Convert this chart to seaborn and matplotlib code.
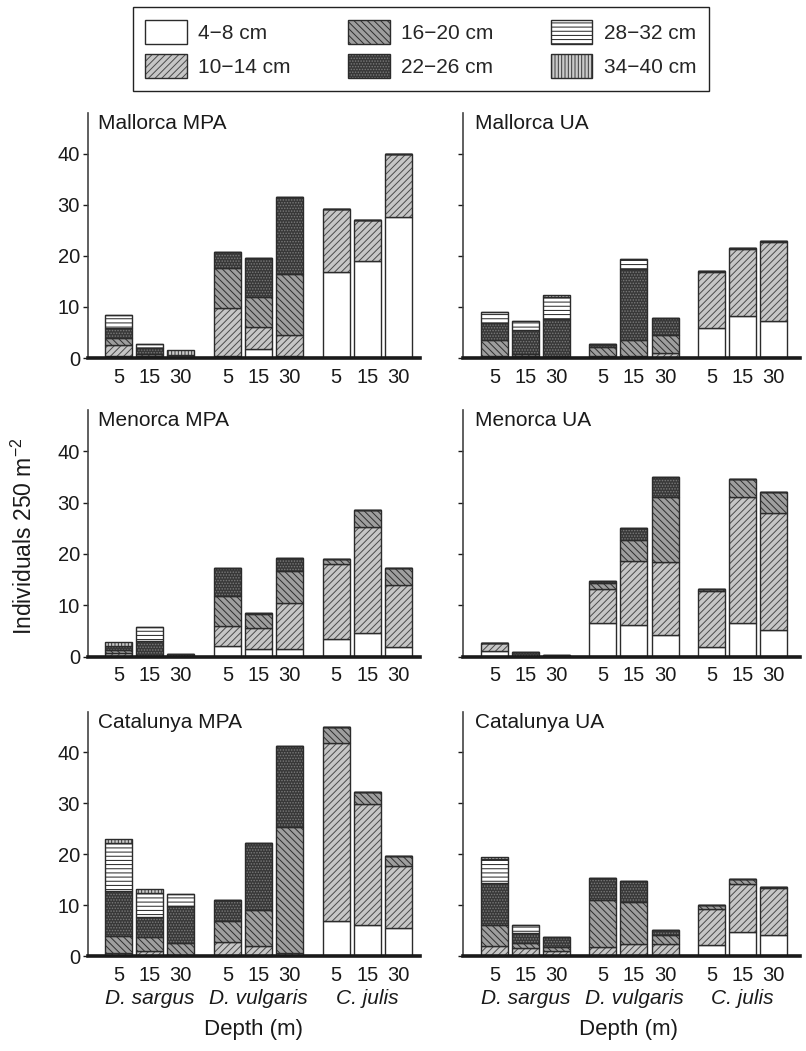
import numpy as np
import matplotlib
matplotlib.use("Agg")
import matplotlib.pyplot as plt
import seaborn as sns
from matplotlib.patches import Patch
from matplotlib.transforms import blended_transform_factory

# ---------------- data ----------------
size_classes = ["4\u22128 cm", "10\u221214 cm", "16\u221220 cm", "22\u221226 cm", "28\u221232 cm", "34\u221240 cm"]
species = ["D. sargus", "D. vulgaris", "C. julis"]
depths = ["5", "15", "30"]
bar_pos = [0, 1, 2, 3.5, 4.5, 5.5, 7, 8, 9]
species_pos = [1, 4.5, 8]

# rows: size classes (4-8 ... 34-40); columns: D.sargus 5/15/30, D.vulgaris 5/15/30, C.julis 5/15/30
mallorca_mpa = [
    [0.4, 0.0, 0.0, 0.4, 1.8, 0.3, 16.9, 19.0, 27.6],
    [2.1, 0.4, 0.0, 9.3, 4.3, 4.3, 12.2, 8.0, 12.3],
    [1.5, 0.4, 0.0, 7.9, 5.9, 11.9, 0.0, 0.0, 0.0],
    [1.8, 1.2, 0.0, 3.2, 7.5, 15.1, 0.0, 0.0, 0.0],
    [2.6, 0.8, 0.5, 0.0, 0.0, 0.0, 0.0, 0.0, 0.0],
    [0.0, 0.0, 1.0, 0.0, 0.0, 0.0, 0.0, 0.0, 0.0],
]
mallorca_ua = [
    [0.0, 0.0, 0.0, 0.0, 0.0, 0.0, 5.9, 8.2, 7.3],
    [0.4, 0.3, 0.3, 0.3, 0.4, 1.0, 11.0, 13.1, 15.4],
    [3.1, 0.4, 0.0, 1.8, 3.1, 3.6, 0.2, 0.3, 0.2],
    [3.4, 4.7, 7.4, 0.6, 13.9, 3.3, 0.0, 0.0, 0.0],
    [2.1, 1.9, 4.3, 0.0, 2.0, 0.0, 0.0, 0.0, 0.0],
    [0.0, 0.0, 0.4, 0.0, 0.0, 0.0, 0.0, 0.0, 0.0],
]
menorca_mpa = [
    [0.2, 0.0, 0.0, 2.1, 1.5, 1.5, 3.4, 4.6, 1.8],
    [0.6, 0.2, 0.0, 3.9, 4.1, 9.0, 14.7, 20.6, 12.2],
    [0.6, 0.0, 0.0, 5.9, 2.7, 6.2, 1.0, 3.3, 3.2],
    [0.7, 2.9, 0.6, 5.3, 0.2, 2.6, 0.0, 0.0, 0.0],
    [0.0, 2.6, 0.0, 0.0, 0.0, 0.0, 0.0, 0.0, 0.0],
    [0.7, 0.0, 0.0, 0.0, 0.0, 0.0, 0.0, 0.0, 0.0],
]
menorca_ua = [
    [1.2, 0.0, 0.0, 6.6, 6.1, 4.3, 1.8, 6.6, 5.1],
    [1.5, 0.0, 0.0, 6.6, 12.5, 14.1, 10.9, 24.5, 22.8],
    [0.0, 0.0, 0.0, 1.2, 4.2, 12.7, 0.5, 3.4, 4.1],
    [0.0, 1.0, 0.3, 0.3, 2.2, 3.9, 0.0, 0.0, 0.0],
    [0.0, 0.0, 0.0, 0.0, 0.0, 0.0, 0.0, 0.0, 0.0],
    [0.0, 0.0, 0.0, 0.0, 0.0, 0.0, 0.0, 0.0, 0.0],
]
catalunya_mpa = [
    [0.0, 0.0, 0.0, 0.0, 0.0, 0.0, 6.9, 6.0, 5.5],
    [0.6, 1.0, 0.2, 2.8, 1.9, 0.6, 34.9, 23.8, 12.2],
    [3.3, 2.7, 2.4, 4.1, 7.2, 24.8, 3.2, 2.4, 1.9],
    [8.9, 3.9, 7.2, 4.2, 13.1, 15.8, 0.0, 0.0, 0.0],
    [9.4, 4.8, 2.3, 0.0, 0.0, 0.0, 0.0, 0.0, 0.0],
    [0.8, 0.7, 0.0, 0.0, 0.0, 0.0, 0.0, 0.0, 0.0],
]
catalunya_ua = [
    [0.0, 0.0, 0.0, 0.0, 0.0, 0.0, 2.2, 4.8, 4.1],
    [2.0, 1.5, 1.0, 1.8, 2.4, 2.4, 7.1, 9.4, 9.2],
    [4.1, 1.1, 0.8, 9.3, 8.2, 1.7, 0.8, 0.9, 0.3],
    [8.2, 2.0, 1.9, 4.3, 4.2, 1.1, 0.0, 0.0, 0.0],
    [4.7, 1.5, 0.0, 0.0, 0.0, 0.0, 0.0, 0.0, 0.0],
    [0.5, 0.0, 0.0, 0.0, 0.0, 0.0, 0.0, 0.0, 0.0],
]
panel_titles = ["Mallorca MPA", "Mallorca UA", "Menorca MPA", "Menorca UA", "Catalunya MPA", "Catalunya UA"]

# ---------------- style ----------------
sns.set_theme(style="ticks")
plt.rcParams["font.family"] = ["Liberation Sans", "DejaVu Sans"]
plt.rcParams["mathtext.fontset"] = "custom"
plt.rcParams["mathtext.rm"] = "Liberation Sans"
plt.rcParams["mathtext.it"] = "Liberation Sans:italic"
plt.rcParams["hatch.linewidth"] = 0.7
FS = 15
TFS = 14.5

face_cols = ["white", "#c6c6c6", "#9e9e9e", "#383838", "white", "#cacaca"]
hatch_cols = ["#222222", "#4a4a4a", "#2e2e2e", "#7a7a7a", "#222222", "#3a3a3a"]
hatches = [None, "/////", "\\\\\\\\\\", "......", "----", "|||||"]
outline = "#2b2b2b"

fig = plt.figure(figsize=(8.06, 10.51), dpi=100)
W, H = 806, 1051

col_x = [(87.7, 420.0), (463.3, 800.0)]
row_y = [(113.0, 358.0), (410.0, 656.7), (711.7, 956.0)]
xmaxes = [9.7, 9.85]

panels = [mallorca_mpa, mallorca_ua, menorca_mpa, menorca_ua, catalunya_mpa, catalunya_ua]

axes = []
for i, data in enumerate(panels):
    r, c = divmod(i, 2)
    x0, x1 = col_x[c]
    y0, y1 = row_y[r]
    ax = fig.add_axes([x0 / W, 1 - y1 / H, (x1 - x0) / W, (y1 - y0) / H])
    axes.append(ax)
    x = np.array(bar_pos, dtype=float)
    bottom = np.zeros(len(x))
    for k, vals in enumerate(data):
        vals = np.array(vals, dtype=float)
        sns.barplot(x=x, y=vals, native_scale=True, width=0.87, errorbar=None, ax=ax,
                    color=face_cols[k], saturation=1,
                    bottom=bottom.copy(), facecolor=face_cols[k], edgecolor=hatch_cols[k],
                    hatch=hatches[k], linewidth=0)
        sns.barplot(x=x, y=vals, native_scale=True, width=0.87, errorbar=None, ax=ax,
                    color="white", saturation=1,
                    bottom=bottom.copy(), facecolor="none", edgecolor=outline, linewidth=1.0)
        bottom += vals

    ax.set_xlim(-1, xmaxes[c])
    ax.set_ylim(0, 48)
    ax.set_xticks(bar_pos)
    ax.set_xticklabels(depths * 3)
    ax.set_yticks([0, 10, 20, 30, 40])
    ax.set_xlabel("")
    ax.set_ylabel("")
    ax.tick_params(axis="x", length=0, pad=7, labelsize=TFS, colors="#1a1a1a")
    ax.tick_params(axis="y", length=3.5, width=1.0, pad=2, labelsize=TFS, colors="#1a1a1a",
                   direction="out", labelleft=(c == 0))
    sns.despine(ax=ax)
    ax.spines["left"].set_linewidth(1.2)
    ax.spines["left"].set_color("#444444")
    ax.spines["bottom"].set_linewidth(2.6)
    ax.spines["bottom"].set_color("#1a1a1a")
    ax.set_facecolor("none")
    ax.text(0.031 if c == 0 else 0.034, 0.995, panel_titles[i], transform=ax.transAxes,
            ha="left", va="top", fontsize=FS, color="#1a1a1a")

    if r == 2:
        tr = blended_transform_factory(ax.transData, ax.transAxes)
        for sp, name in zip(species_pos, species):
            ax.text(sp, -0.175, name, transform=tr, ha="center", va="center",
                    fontsize=FS, style="italic", color="#1a1a1a")
        ax.text(0.5 if c == 0 else 0.49, -0.30, "Depth (m)", transform=ax.transAxes,
                ha="center", va="center", fontsize=FS + 1, color="#1a1a1a")

fig.text(0.030, 0.49, "Individuals 250 m$^{-2}$", rotation=90, ha="center", va="center",
         fontsize=FS + 1.5, color="#1a1a1a")

handles = []
for k in range(len(size_classes)):
    h_fill = Patch(facecolor=face_cols[k], edgecolor=hatch_cols[k], hatch=hatches[k], linewidth=0)
    h_out = Patch(facecolor="none", edgecolor=outline, linewidth=1.0)
    handles.append((h_fill, h_out))
leg = fig.legend(handles, size_classes, ncol=3, loc="upper center", bbox_to_anchor=(0.522, 0.993),
                 fontsize=FS, handlelength=2.0, handleheight=1.4, labelspacing=0.5,
                 columnspacing=2.75, handletextpad=0.55, borderpad=0.6, borderaxespad=0,
                 fancybox=False, framealpha=1, edgecolor="#222222")
leg.get_frame().set_linewidth(1.0)

fig.savefig("out.png", dpi=100)
